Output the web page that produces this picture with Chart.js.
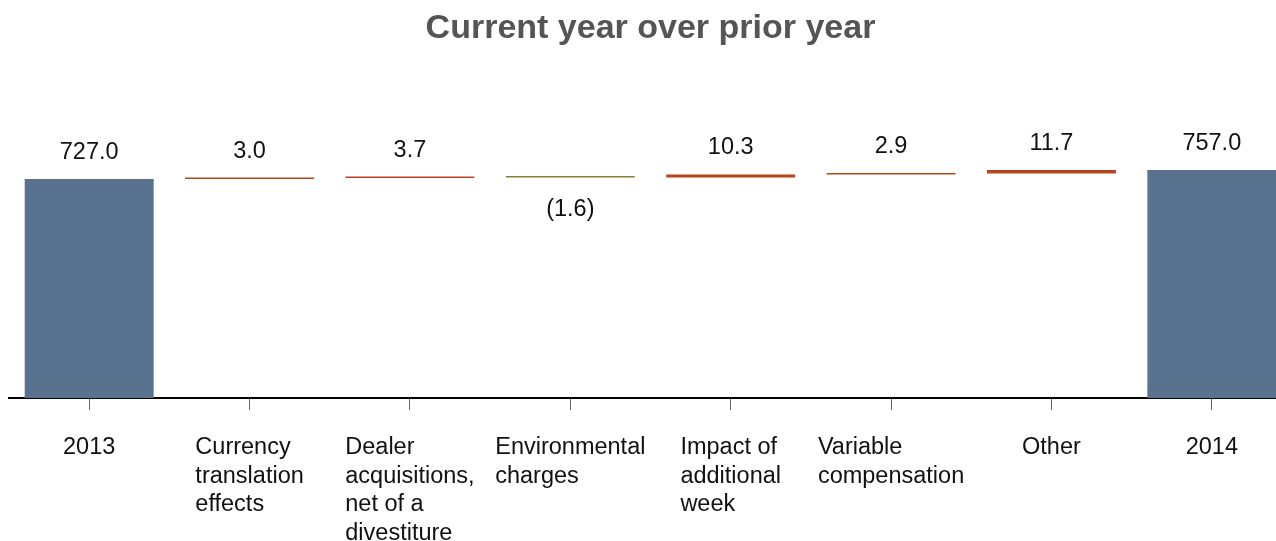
<!DOCTYPE html>
<html>
<head>
<meta charset="utf-8">
<script src="https://cdn.jsdelivr.net/npm/chart.js@4"></script>
<style>
  html, body { margin: 0; padding: 0; background: #fff; overflow: hidden; }
  #wrap { position: relative; width: 1300px; height: 541px; }
</style>
</head>
<body>
<div id="wrap"><canvas id="chart"></canvas></div>
<script>
// Waterfall: 2013 -> 2014, current year over prior year
const categories = [
  ["2013"],
  ["Currency", "translation", "effects"],
  ["Dealer", "acquisitions,", "net of a", "divestiture"],
  ["Environmental", "charges"],
  ["Impact of", "additional", "week"],
  ["Variable", "compensation"],
  ["Other"],
  ["2014"],
];
const values = [727.0, 3.0, 3.7, -1.6, 10.3, 2.9, 11.7, 757.0];
const isTotal = [true, false, false, false, false, false, false, true];

const COLOR_TOTAL = "#58728f";
const COLOR_UP = "#b5441b";
const COLOR_DOWN = "#86812f";
const FONT = "Liberation Sans, Arial, sans-serif";

// floating ranges built from the values
let running = 0;
const ranges = values.map((v, i) => {
  if (isTotal[i]) { running = v; return [0, v]; }
  const r = [running, running + v];
  running += v;
  return r;
});
const colors = values.map((v, i) => isTotal[i] ? COLOR_TOTAL : (v < 0 ? COLOR_DOWN : COLOR_UP));
const fmt = (v) => v < 0 ? `(${Math.abs(v).toFixed(1)})` : v.toFixed(1);

const labelsPlugin = {
  id: "wfLabels",
  afterDatasetsDraw(chart) {
    const { ctx } = chart;
    const meta = chart.getDatasetMeta(0);
    const x = chart.scales.x;
    ctx.save();
    ctx.font = `23.5px ${FONT}`;
    ctx.fillStyle = "#111";
    ctx.textBaseline = "alphabetic";
    ctx.textAlign = "center";
    meta.data.forEach((bar, i) => {
      const top = Math.min(bar.y, bar.base), bottom = Math.max(bar.y, bar.base);
      if (values[i] < 0) ctx.fillText(fmt(values[i]), bar.x, bottom + 39);
      else ctx.fillText(fmt(values[i]), bar.x, top - 20);
    });
    // category labels: block centered on tick, lines left-aligned
    ctx.textAlign = "left";
    const baseY = chart.chartArea.bottom + 56;
    categories.forEach((lines, i) => {
      const cx = x.getPixelForValue(i);
      const w = Math.max(...lines.map((l) => ctx.measureText(l).width));
      lines.forEach((l, j) => ctx.fillText(l, cx - w / 2, baseY + j * 28.6));
    });
    ctx.restore();
  },
};

new Chart(document.getElementById("chart"), {
  type: "bar",
  data: {
    labels: categories.map((c) => c.join(" ")),
    datasets: [{
      data: ranges,
      backgroundColor: colors,
      borderWidth: 0,
      categoryPercentage: 1,
      barPercentage: 0.804,
      minBarLength: 1.5,
    }],
  },
  options: {
    responsive: true,
    maintainAspectRatio: false,
    animation: false,
    layout: { padding: { left: 9, right: 8, top: 0, bottom: 131 } },
    plugins: {
      legend: { display: false },
      tooltip: { enabled: false },
      title: {
        display: true,
        text: "Current year over prior year",
        color: "#555",
        font: { family: FONT, size: 34, weight: "bold", lineHeight: 1.2 },
        padding: { top: 8, bottom: 48 },
      },
    },
    scales: {
      x: {
        grid: { display: true, offset: false, drawOnChartArea: false, drawTicks: true, tickLength: 12, color: "#666", tickWidth: 1 },
        border: { display: true, color: "#000", width: 2 },
        ticks: { display: false },
      },
      y: {
        display: false,
        min: 0, max: 1000,
      },
    },
  },
  plugins: [labelsPlugin],
});
</script>
</body>
</html>
